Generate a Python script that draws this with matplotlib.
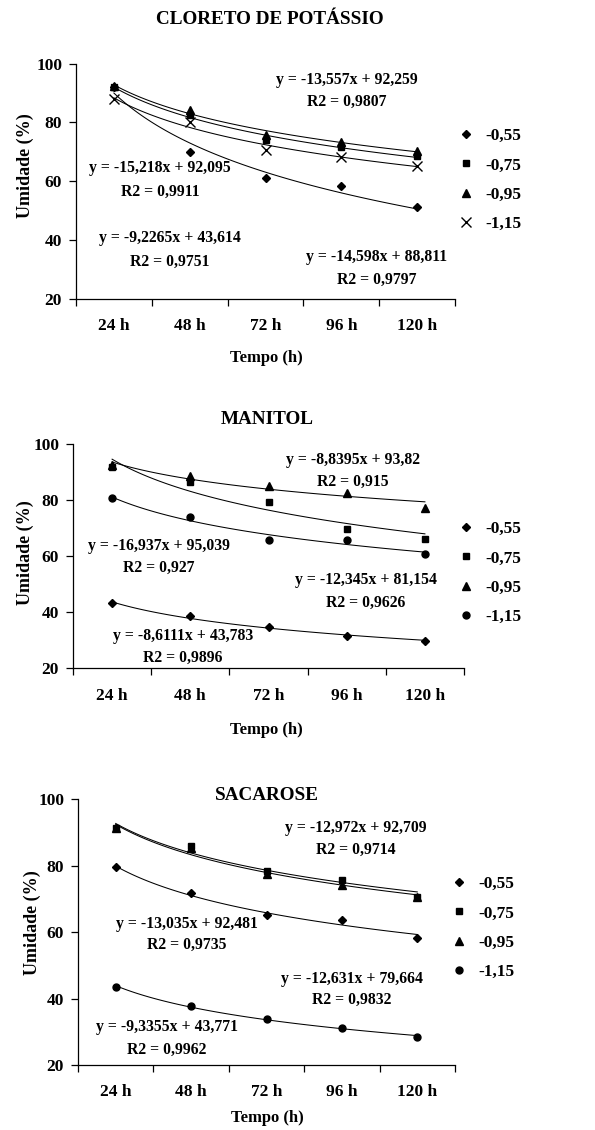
import numpy as np
import matplotlib
matplotlib.use("Agg")
import matplotlib.pyplot as plt

plt.rcParams['font.family'] = ['Liberation Serif', 'DejaVu Serif']
plt.rcParams['font.weight'] = 'bold'

W, H = 595, 1130

# Data
tempos = ["24 h", "48 h", "72 h", "96 h", "120 h"]
potenciais = ["-0,55", "-0,75", "-0,95", "-1,15"]

kcl_055 = [92.0, 70.0, 61.0, 58.5, 51.2]
kcl_075 = [92.0, 82.5, 74.0, 71.7, 68.6]
kcl_095 = [92.5, 84.2, 75.7, 73.4, 70.3]
kcl_115 = [87.8, 80.2, 70.6, 68.3, 65.3]

man_055 = [43.2, 38.7, 34.6, 31.5, 29.8]
man_075 = [92.0, 86.7, 79.5, 69.8, 66.1]
man_095 = [92.5, 88.7, 85.1, 82.7, 77.1]
man_115 = [80.7, 74.2, 65.8, 65.8, 60.8]

sac_055 = [79.5, 71.7, 65.2, 63.7, 58.1]
sac_075 = [91.5, 85.9, 78.5, 75.7, 70.7]
sac_095 = [91.5, 85.2, 77.5, 74.2, 70.7]
sac_115 = [43.6, 37.8, 33.8, 31.0, 28.5]

# equation, R2, centre x, y of line 1, y of line 2 (pixels)
kcl_eq = [("y = -13,557x + 92,259", "R2 = 0,9807", 347, 80, 102),
          ("y = -15,218x + 92,095", "R2 = 0,9911", 160, 168, 192),
          ("y = -9,2265x + 43,614", "R2 = 0,9751", 170, 238, 262),
          ("y = -14,598x + 88,811", "R2 = 0,9797", 377, 257, 280)]
man_eq = [("y = -8,8395x + 93,82", "R2 = 0,915", 353, 460, 482),
          ("y = -16,937x + 95,039", "R2 = 0,927", 159, 546, 568),
          ("y = -12,345x + 81,154", "R2 = 0,9626", 366, 580, 603),
          ("y = -8,6111x + 43,783", "R2 = 0,9896", 183, 636, 658)]
sac_eq = [("y = -12,972x + 92,709", "R2 = 0,9714", 356, 828, 850),
          ("y = -13,035x + 92,481", "R2 = 0,9735", 187, 924, 945),
          ("y = -12,631x + 79,664", "R2 = 0,9832", 352, 979, 1000),
          ("y = -9,3355x + 43,771", "R2 = 0,9962", 167, 1027, 1050)]


def fx(x):
    return x / W


def fy(y):
    return 1 - y / H


fig = plt.figure(figsize=(W / 100, H / 100), dpi=100)


def painel(box, titulo, tpos, series, markers, eqs, ylab, xlab, leg):
    left, right, top, bottom = box
    ax = fig.add_axes([fx(left), fy(bottom), (right - left) / W, (bottom - top) / H])
    x = np.arange(1, 6)
    xs = np.linspace(1, 5, 100)
    for vals, m, lab in zip(series, markers, potenciais):
        ms = {'D': 4.5, 's': 5, '^': 6, 'x': 6.5, 'o': 5}[m]
        ax.plot(x, vals, linestyle='none', marker=m, color='black', ms=ms,
                mew=1.0, label=lab)
        # logarithmic trend line fitted to the points
        a, b = np.polyfit(np.log(x), vals, 1)
        ax.plot(xs, a * np.log(xs) + b, color='black', lw=0.75)
    ax.set_xlim(0.5, 5.5)
    ax.set_ylim(20, 100)
    ax.set_yticks([20, 40, 60, 80, 100])
    ax.set_xticks(x)
    ax.set_xticklabels(tempos)
    ax.set_xticks(np.arange(0.5, 5.6, 1), minor=True)
    ax.tick_params(axis='x', which='major', length=0, pad=14, labelsize=12.5)
    ax.tick_params(axis='x', which='minor', length=5, direction='out', width=0.9)
    ax.tick_params(axis='y', length=5, direction='out', width=0.9, pad=5, labelsize=12.5)
    for s in ['top', 'right']:
        ax.spines[s].set_visible(False)
    for s in ['left', 'bottom']:
        ax.spines[s].set_linewidth(0.9)
    for eq, r2, cx, y1, y2 in eqs:
        fig.text(fx(cx), fy(y1), eq, ha='center', va='center', fontsize=11.3)
        fig.text(fx(cx), fy(y2), r2, ha='center', va='center', fontsize=11.3)
    fig.text(fx(tpos[0]), fy(tpos[1]), titulo, ha='center', va='center', fontsize=13.8)
    fig.text(fx(ylab[0]), fy(ylab[1]), "Umidade (%)", ha='center', va='center',
             rotation=90, fontsize=13)
    fig.text(fx(xlab[0]), fy(xlab[1]), "Tempo (h)", ha='center', va='center', fontsize=12)
    ax.legend(loc='center left', bbox_to_anchor=(fx(leg[0]), fy(leg[1])),
              bbox_transform=fig.transFigure, frameon=False, fontsize=12.5,
              handlelength=0.8, handletextpad=0.7, borderpad=0, borderaxespad=0,
              labelspacing=0.75)
    return ax


painel((76, 455, 63.5, 299), "CLORETO DE POTÁSSIO", (270, 20),
       [kcl_055, kcl_075, kcl_095, kcl_115], ['D', 's', '^', 'x'], kcl_eq,
       (25, 166), (266, 358), (459, 180))
painel((73, 464, 444.3, 668.3), "MANITOL", (267, 420),
       [man_055, man_075, man_095, man_115], ['D', 's', '^', 'o'], man_eq,
       (25, 553), (266, 730), (459, 573))
painel((78, 455, 799.3, 1065), "SACAROSE", (267, 796),
       [sac_055, sac_075, sac_095, sac_115], ['D', 's', '^', 'o'], sac_eq,
       (32, 923), (267, 1118), (452, 928))

fig.savefig("out.png", dpi=100)
